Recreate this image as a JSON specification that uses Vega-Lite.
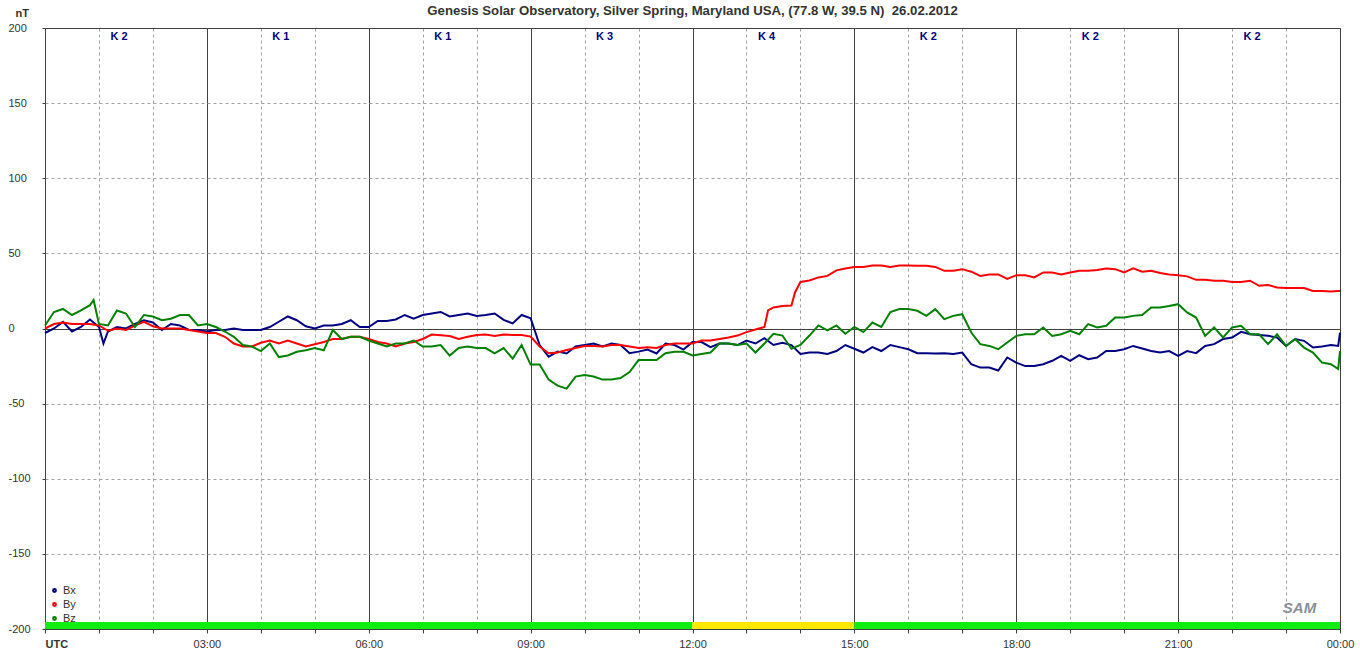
{
  "$schema": "https://vega.github.io/schema/vega-lite/v6.json",
  "autosize": {"type": "none"},
  "padding": {"left": 45, "top": 28, "right": 20, "bottom": 28},
  "width": 1295,
  "height": 601,
  "background": "white",
  "config": {"view": {"stroke": null}, "font": "Liberation Sans"},
  "title": {"text": "Genesis Solar Observatory, Silver Spring, Maryland USA, (77.8 W, 39.5 N)\u00a0 26.02.2012", "font": "Liberation Sans", "fontSize": 13.2, "fontWeight": "bold", "color": "#333333", "offset": -11, "anchor": "middle"},
  "datasets": {
    "mag": [
      {"t":0,"Bx":-3,"By":0,"Bz":2},{"t":10,"Bx":0,"By":3,"Bz":11},{"t":20,"Bx":4.4,"By":4,"Bz":13},{"t":30,"Bx":-2,"By":3,"Bz":9},{"t":40,"Bx":1,"By":3,"Bz":12},{"t":50,"Bx":6,"By":3,"Bz":15.5},{"t":54,"Bz":19},{"t":60,"Bx":1,"By":2,"Bz":3},{"t":65,"Bx":-10},{"t":70,"Bx":-2,"By":-1.5,"Bz":2},{"t":80,"Bx":1,"By":0,"Bz":12},{"t":90,"Bx":0,"By":-1,"Bz":10},{"t":100,"Bx":3,"By":2,"Bz":1},{"t":110,"Bx":5.5,"By":4.5,"Bz":9},{"t":120,"Bx":4,"By":1.5,"Bz":8},{"t":130,"Bx":-1,"By":0,"Bz":5.5},{"t":140,"Bx":3,"By":0,"Bz":6.5},{"t":150,"Bx":2,"By":0,"Bz":9},{"t":160,"Bx":-1,"By":-1,"Bz":9},{"t":170,"Bx":-1,"By":-2,"Bz":2},{"t":180,"Bx":-2,"By":-3,"Bz":3},{"t":190,"Bx":-1,"By":-3,"Bz":1},{"t":200,"Bx":-1,"By":-5.5,"Bz":-2},{"t":210,"Bx":0,"By":-10,"Bz":-5.5},{"t":220,"Bx":-1,"By":-12,"Bz":-11},{"t":230,"Bx":-1,"By":-12,"Bz":-12},{"t":240,"Bx":-1,"By":-9.5,"Bz":-15},{"t":250,"Bx":1,"By":-8,"Bz":-10},{"t":260,"Bx":4.5,"By":-10,"Bz":-19},{"t":270,"Bx":8,"By":-8,"Bz":-18},{"t":280,"Bx":5.5,"By":-10,"Bz":-15.5},{"t":290,"Bx":1.5,"By":-12,"Bz":-14.5},{"t":300,"Bx":0,"By":-10.5,"Bz":-13},{"t":310,"Bx":2,"By":-9,"Bz":-14.5},{"t":320,"Bx":2,"By":-7,"Bz":-1},{"t":330,"Bx":3,"By":-7,"Bz":-7},{"t":340,"Bx":5.5,"By":-5.5,"Bz":-5.5},{"t":350,"Bx":1,"By":-5.5,"Bz":-5.5},{"t":360,"Bx":1,"By":-7,"Bz":-8},{"t":370,"Bx":5,"By":-9,"Bz":-10},{"t":380,"Bx":5,"By":-10,"Bz":-12},{"t":390,"Bx":6,"By":-12,"Bz":-10},{"t":400,"Bx":9,"By":-10,"Bz":-10},{"t":410,"Bx":6.5,"By":-9,"Bz":-8},{"t":420,"Bx":9,"By":-7,"Bz":-12},{"t":430,"Bx":10,"By":-4,"Bz":-12},{"t":440,"Bx":11,"By":-4.5,"Bz":-11},{"t":450,"Bx":8,"By":-5,"Bz":-18},{"t":460,"Bx":9,"By":-7,"Bz":-13},{"t":470,"Bx":10,"By":-5.5,"Bz":-12},{"t":480,"Bx":8.3,"By":-4.3,"Bz":-13},{"t":490,"Bx":9,"By":-4,"Bz":-13},{"t":500,"Bx":10,"By":-5,"Bz":-16.5},{"t":510,"Bx":5.7,"By":-4,"Bz":-13},{"t":520,"Bx":3.4,"By":-4.3,"Bz":-20},{"t":530,"Bx":9,"By":-4.3,"Bz":-11},{"t":540,"Bx":6.8,"By":-5.4,"Bz":-24},{"t":550,"Bx":-11,"By":-12,"Bz":-24},{"t":560,"Bx":-18.8,"By":-16.5,"Bz":-34},{"t":570,"Bx":-15.4,"By":-16,"Bz":-38},{"t":580,"Bx":-16.6,"By":-14.3,"Bz":-40},{"t":590,"Bx":-12,"By":-13,"Bz":-32},{"t":600,"Bx":-11,"By":-11.6,"Bz":-31},{"t":610,"Bx":-10,"By":-11.6,"Bz":-32},{"t":620,"Bx":-12,"By":-12,"Bz":-34},{"t":630,"Bx":-10,"By":-11,"Bz":-34},{"t":640,"Bx":-11,"By":-11,"Bz":-33},{"t":650,"Bx":-16.5,"By":-12,"Bz":-29},{"t":660,"Bx":-15.4,"By":-13,"Bz":-21},{"t":670,"Bx":-14,"By":-12.5,"Bz":-21},{"t":680,"Bx":-16.6,"By":-13,"Bz":-21},{"t":690,"Bx":-10,"By":-11,"Bz":-16.5},{"t":700,"Bx":-11,"By":-10,"Bz":-15.5},{"t":710,"Bx":-14,"By":-10,"Bz":-15.5},{"t":720,"Bx":-9,"By":-10,"Bz":-18},{"t":730,"Bx":-9,"By":-8,"Bz":-17},{"t":740,"Bx":-12.4,"By":-8,"Bz":-16},{"t":750,"Bx":-10,"By":-7,"Bz":-10},{"t":760,"Bx":-10,"By":-6,"Bz":-10},{"t":770,"Bx":-11,"By":-4.7,"Bz":-11},{"t":780,"Bx":-8,"By":-2.4,"Bz":-10},{"t":790,"Bx":-10,"By":-0.7,"Bz":-16},{"t":800,"Bx":-6.4,"By":1,"Bz":-10},{"t":804,"By":12},{"t":810,"Bx":-11,"By":14,"Bz":-3.5},{"t":820,"Bx":-9.5,"By":15,"Bz":-4.7},{"t":830,"Bx":-11,"By":15.3,"Bz":-13.5},{"t":834,"By":24},{"t":840,"Bx":-17,"By":31,"Bz":-11},{"t":850,"Bx":-16,"By":32,"Bz":-4.7},{"t":860,"Bx":-16,"By":34,"Bz":2},{"t":870,"Bx":-17,"By":35,"Bz":-1.3},{"t":880,"Bx":-15,"By":38.7,"Bz":2},{"t":890,"Bx":-11,"By":40,"Bz":-3.5},{"t":900,"Bx":-13.5,"By":41,"Bz":1},{"t":910,"Bx":-16,"By":41,"Bz":-2.4},{"t":920,"Bx":-12.4,"By":42,"Bz":4},{"t":930,"Bx":-15,"By":42,"Bz":1},{"t":940,"Bx":-11,"By":41,"Bz":11},{"t":950,"Bx":-12.4,"By":42,"Bz":13},{"t":960,"Bx":-13.8,"By":42,"Bz":12.9},{"t":970,"Bx":-16.4,"By":41.8,"Bz":11.8},{"t":980,"Bx":-16.4,"By":41.8,"Bz":8.4},{"t":990,"Bx":-16.7,"By":41,"Bz":12.9},{"t":1000,"Bx":-16.4,"By":38.4,"Bz":6.2},{"t":1010,"Bx":-17,"By":38.4,"Bz":8.4},{"t":1020,"Bx":-16,"By":39.5,"Bz":9.5},{"t":1030,"Bx":-23.8,"By":37.8,"Bz":-2.7},{"t":1040,"Bx":-26,"By":35,"Bz":-10.4},{"t":1050,"Bx":-26,"By":36,"Bz":-11.6},{"t":1060,"Bx":-28,"By":36,"Bz":-13.8},{"t":1070,"Bx":-19.3,"By":33,"Bz":-9.3},{"t":1080,"Bx":-22.7,"By":35.5,"Bz":-4.9},{"t":1090,"Bx":-25,"By":35.5,"Bz":-3.8},{"t":1100,"Bx":-25,"By":34,"Bz":-3.8},{"t":1110,"Bx":-23.8,"By":37.3,"Bz":0.7},{"t":1120,"Bx":-21.5,"By":37.3,"Bz":-4.9},{"t":1130,"Bx":-18.2,"By":36,"Bz":-3.8},{"t":1140,"Bx":-21.5,"By":37.3,"Bz":-1.6},{"t":1150,"Bx":-17.8,"By":38.4,"Bz":-3.8},{"t":1160,"Bx":-20.4,"By":38.4,"Bz":2.9},{"t":1170,"Bx":-19.3,"By":39,"Bz":0.7},{"t":1180,"Bx":-15,"By":40,"Bz":1.8},{"t":1190,"Bx":-15,"By":39.5,"Bz":7.3},{"t":1200,"Bx":-13.8,"By":37.3,"Bz":7.3},{"t":1210,"Bx":-11.6,"By":40,"Bz":8.4},{"t":1220,"Bx":-13.3,"By":37.8,"Bz":9},{"t":1230,"Bx":-15,"By":38.4,"Bz":14},{"t":1240,"Bx":-16,"By":37,"Bz":14},{"t":1250,"Bx":-15,"By":36,"Bz":15},{"t":1260,"Bx":-18.2,"By":35.5,"Bz":16.2},{"t":1270,"Bx":-15,"By":34.7,"Bz":10.7},{"t":1280,"Bx":-16.4,"By":32.4,"Bz":7.3},{"t":1290,"Bx":-11.6,"By":32.4,"Bz":-4.9},{"t":1300,"Bx":-10.4,"By":31.8,"Bz":0.7},{"t":1310,"Bx":-7,"By":31.8,"Bz":-6},{"t":1320,"Bx":-6,"By":31,"Bz":0.7},{"t":1330,"Bx":-2.2,"By":31,"Bz":1.8},{"t":1340,"Bx":-3.8,"By":31.8,"Bz":-3.8},{"t":1350,"Bx":-4.4,"By":28.4,"Bz":-3.8},{"t":1360,"Bx":-4.9,"By":29,"Bz":-10.4},{"t":1370,"Bx":-6,"By":27.3,"Bz":-3.8},{"t":1380,"Bx":-11.6,"By":26.9,"Bz":-11.6},{"t":1390,"Bx":-7,"By":26.9,"Bz":-7},{"t":1400,"Bx":-8.2,"By":26.9,"Bz":-12.7},{"t":1410,"Bx":-12.7,"By":25,"Bz":-16},{"t":1420,"Bx":-12,"By":25,"Bz":-22.7},{"t":1430,"Bx":-11,"By":24.7,"Bz":-23.8},{"t":1438,"Bx":-11.6,"By":25,"Bz":-27},{"t":1440,"Bx":-2.7,"By":25,"Bz":-15}
    ],
    "kidx": [
      {"t":90,"k":"K 2"},{"t":270,"k":"K 1"},{"t":450,"k":"K 1"},{"t":630,"k":"K 3"},{"t":810,"k":"K 4"},{"t":990,"k":"K 2"},{"t":1170,"k":"K 2"},{"t":1350,"k":"K 2"}
    ],
    "band": [
      {"t0":0,"t1":720,"level":"quiet"},{"t0":720,"t1":900,"level":"active"},{"t0":900,"t1":1440,"level":"quiet"}
    ],
    "logo": [{"t":1395,"v":-186,"s":"SAM"}]
  },
  "resolve": {"scale": {"color": "independent"}},
  "layer": [
    {
      "data": {"name": "band"},
      "mark": {"type": "rect"},
      "encoding": {
        "x": {"field": "t0", "type": "quantitative", "scale": {"domain": [0, 1440], "nice": false, "zero": false},
          "axis": {"values": [0,60,120,180,240,300,360,420,480,540,600,660,720,780,840,900,960,1020,1080,1140,1200,1260,1320,1380,1440],
            "labelExpr": "datum.value == 0 ? 'UTC' : (datum.value % 180 != 0 ? '' : ((((datum.value/60) % 24) < 10 ? '0' : '') + ((datum.value/60) % 24) + ':00'))",
            "labelAlign": {"condition": {"test": "datum.value == 0", "value": "left"}, "value": "center"},
            "labelFontWeight": {"condition": {"test": "datum.value == 0", "value": "bold"}, "value": "normal"},
            "labelFont": "Liberation Sans", "labelFontSize": 11, "labelColor": "#333333",
            "labelOverlap": false, "labelFlush": false, "labelBound": false, "labelPadding": 5,
            "tickSize": 4, "tickColor": "#404040", "domainColor": "#404040",
            "grid": true,
            "gridColor": {"condition": {"test": "datum.value % 180 == 0", "value": "#404040"}, "value": "#a0a0a0"},
            "gridDash": {"condition": {"test": "datum.value % 180 == 0", "value": []}, "value": [3, 3]},
            "title": null}},
        "x2": {"field": "t1"},
        "y": {"datum": -200, "type": "quantitative", "scale": {"domain": [-200, 200], "nice": false},
          "axis": {"values": [-200,-150,-100,-50,0,50,100,150,200],
            "labelExpr": "(datum.value < 0 ? '-' : '') + abs(datum.value)",
            "labelFont": "Liberation Sans", "labelFontSize": 11, "labelColor": "#333333",
            "labelAlign": "left", "labelPadding": 34, "labelBaseline": "middle",
            "tickSize": 3, "tickColor": "#404040", "domain": false,
            "grid": true,
            "gridColor": {"condition": {"test": "datum.value == 0 || abs(datum.value) == 200", "value": "#404040"}, "value": "#a0a0a0"},
            "gridDash": {"condition": {"test": "datum.value == 0 || abs(datum.value) == 200", "value": []}, "value": [3, 3]},
            "title": "nT", "titleAngle": 0, "titleAlign": "left", "titleBaseline": "middle", "titleX": -30, "titleY": -15,
            "titleFont": "Liberation Sans", "titleFontSize": 11, "titleFontWeight": "bold", "titleColor": "#333333"}},
        "y2": {"datum": -195.3},
        "color": {"field": "level", "type": "nominal", "scale": {"domain": ["quiet", "active"], "range": ["#10ee10", "#ffe800"]}, "legend": null}
      }
    },
    {
      "data": {"name": "mag"},
      "transform": [
        {"fold": ["Bx", "By", "Bz"], "as": ["comp", "v"]},
        {"filter": "isValid(datum.v)"}
      ],
      "mark": {"type": "line", "strokeWidth": 2, "interpolate": "linear"},
      "encoding": {
        "x": {"field": "t", "type": "quantitative"},
        "y": {"field": "v", "type": "quantitative"},
        "color": {"field": "comp", "type": "nominal",
          "scale": {"domain": ["Bx", "By", "Bz"], "range": ["#000080", "#ff0000", "#008000"]},
          "legend": {"orient": "none", "legendX": 4, "legendY": 557, "title": null, "symbolType": "circle", "symbolSize": 8, "symbolStrokeWidth": 2,
            "labelFont": "Liberation Sans", "labelFontSize": 11, "labelColor": "#333333", "labelOffset": 3, "rowPadding": 2, "padding": 0}},
        "order": {"field": "t", "type": "quantitative"}
      }
    },
    {
      "data": {"name": "kidx"},
      "mark": {"type": "text", "font": "Liberation Sans", "fontSize": 11, "fontWeight": "bold", "color": "#000080", "dx": -7, "baseline": "middle"},
      "encoding": {
        "x": {"field": "t", "type": "quantitative"},
        "y": {"datum": 194},
        "text": {"field": "k"}
      }
    },
    {
      "data": {"name": "logo"},
      "mark": {"type": "text", "font": "Liberation Sans", "fontSize": 15, "fontWeight": "bold", "fontStyle": "italic", "color": "#8a8f9c", "baseline": "middle"},
      "encoding": {
        "x": {"field": "t", "type": "quantitative"},
        "y": {"field": "v", "type": "quantitative"},
        "text": {"field": "s"}
      }
    }
  ]
}
